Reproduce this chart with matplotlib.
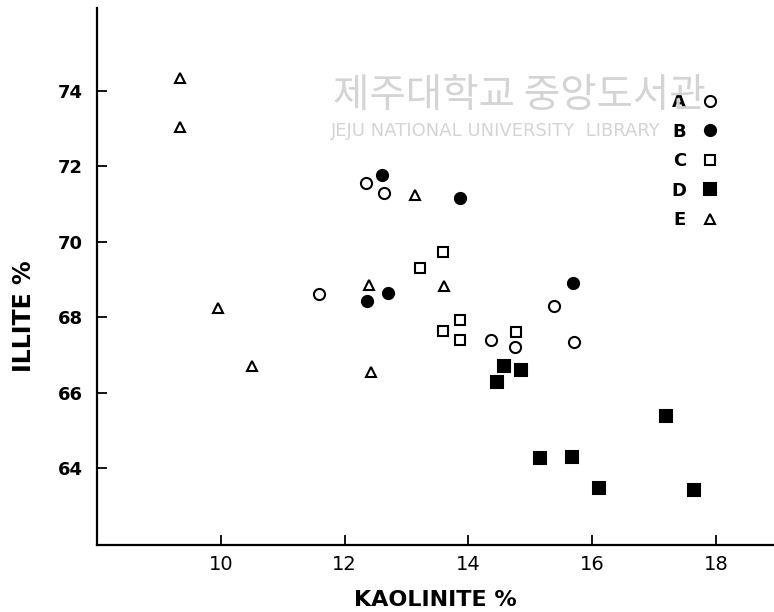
import matplotlib
matplotlib.use('Agg')
import matplotlib.pyplot as plt

plt.rcParams['font.family'] = ['DejaVu Sans', 'Noto Sans CJK KR']

# kaolinite % / illite % per group
a_x = [12.35, 12.64, 11.58, 14.37, 14.75, 15.38, 15.71]
a_y = [71.55, 71.29, 68.62, 67.40, 67.22, 68.30, 67.35]

b_x = [12.60, 13.87, 12.71, 12.37, 15.69]
b_y = [71.77, 71.15, 68.63, 68.44, 68.92]

c_x = [13.59, 13.22, 13.87, 13.59, 13.86, 14.77]
c_y = [69.74, 69.30, 67.93, 67.63, 67.40, 67.62]

d_x = [14.58, 14.85, 14.46, 15.16, 15.68, 16.12, 17.19, 17.64]
d_y = [66.71, 66.60, 66.29, 64.27, 64.30, 63.48, 65.39, 63.42]

e_x = [9.34, 9.34, 13.14, 12.39, 13.60, 12.43, 9.95, 10.51]
e_y = [74.34, 73.05, 71.24, 68.85, 68.83, 66.55, 68.25, 66.71]

x_ticks = [10, 12, 14, 16, 18]
y_ticks = [64, 66, 68, 70, 72, 74]

fig = plt.figure(figsize=(7.74, 6.12), dpi=100)
ax = fig.add_axes([97 / 774, 67 / 612, 677 / 774, 537 / 612])

# faint library watermark from the scan
fig.text(0.43, 0.843, '제주대학교 중앙도서관', fontsize=28.5, color='#d4d4d4',
         family=['Noto Sans CJK KR'], va='center', ha='left', zorder=0)
fig.text(0.428, 0.786, 'JEJU NATIONAL UNIVERSITY  LIBRARY', fontsize=13,
         color='#d4d4d4', va='center', ha='left', zorder=0)

ms = 8
mew = 1.5
ax.plot(a_x, a_y, 'o', ls='none', mfc='white', mec='black', ms=ms, mew=mew, label='A')
ax.plot(b_x, b_y, 'o', ls='none', mfc='black', mec='black', ms=ms, mew=mew, label='B')
ax.plot(c_x, c_y, 's', ls='none', mfc='white', mec='black', ms=7.5, mew=mew, label='C')
ax.plot(d_x, d_y, 's', ls='none', mfc='black', mec='black', ms=8, mew=mew, label='D')
ax.plot(e_x, e_y, '^', ls='none', mfc='white', mec='black', ms=7, mew=mew, label='E')
ax.patch.set_alpha(0)

ax.set_xlim(8, 18.94)
ax.set_ylim(61.96, 76.2)
ax.set_xticks(x_ticks)
ax.set_yticks(y_ticks)

for s in ['top', 'right']:
    ax.spines[s].set_visible(False)
for s in ['left', 'bottom']:
    ax.spines[s].set_linewidth(1.6)

ax.tick_params(axis='both', direction='in', length=7, width=1.3)
ax.tick_params(axis='x', labelsize=14, pad=7)
ax.tick_params(axis='y', labelsize=13, pad=10)
for t in ax.get_yticklabels():
    t.set_fontweight('bold')

ax.set_xlabel('KAOLINITE %', fontsize=16, fontweight='bold')
ax.xaxis.set_label_coords(0.5, -0.083)
ax.set_ylabel('ILLITE %', fontsize=17, fontweight='bold')
ax.yaxis.set_label_coords(-0.09, 0.426)

leg = ax.legend(loc='upper right', bbox_to_anchor=(715 / 774, 1 - 93 / 612),
                bbox_transform=fig.transFigure, frameon=False, markerfirst=False,
                numpoints=1, handlelength=0.6, handletextpad=1.0,
                labelspacing=0.64, borderaxespad=0, borderpad=0,
                prop={'size': 13, 'weight': 'bold'})

fig.savefig('out.png', dpi=100)
